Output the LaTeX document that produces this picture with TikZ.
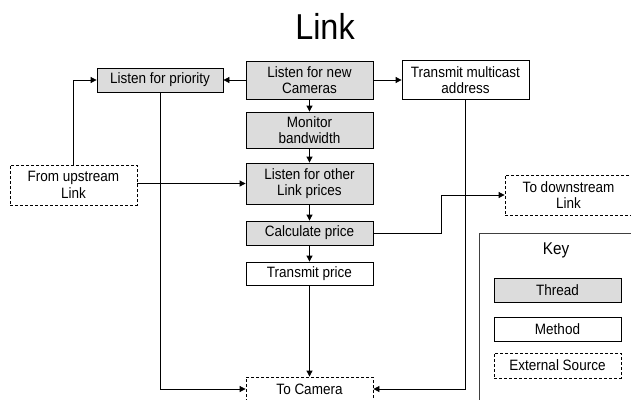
\documentclass[tikz,border=0pt]{standalone}
\usepackage{fontspec}
\setmainfont{Liberation Sans}[FakeStretch=0.9]
\usetikzlibrary{arrows.meta}
\definecolor{thr}{RGB}{220,220,220}
\tikzset{
  base/.style={draw=black, line width=0.8pt, minimum width=127pt, align=center, inner sep=0pt, font=\fontsize{15}{16.5}\selectfont},
  thread/.style={base, fill=thr},
  method/.style={base, fill=white},
  extsrc/.style={base, fill=white, dash pattern=on 3pt off 2pt},
  conn/.style={draw=black, line width=0.8pt, -{Triangle[length=6pt,width=6pt]}},
}
\begin{document}
\begin{tikzpicture}[x=1pt,y=-1pt]
\useasboundingbox (0,0) rectangle (631,399);
\clip (0,0) rectangle (631,399);
\fill[white] (0,0) rectangle (631,399);
\node[font=\fontsize{36}{38}\selectfont] (title) at (325,26) {Link};
\node[thread, minimum width=126pt, minimum height=24pt] (prio) at (160,80) {Listen for priority};
\node[thread, minimum height=38pt] (newcam) at (309.5,80) {Listen for new\\Cameras};
\node[method, minimum height=39pt] (multi) at (465.5,80) {Transmit multicast\\address};
\node[thread, minimum height=36pt] (monitor) at (309.5,130) {Monitor\\bandwidth};
\node[thread, minimum height=41pt] (other) at (309.5,183.5) {Listen for other\\Link prices};
\node[extsrc, minimum height=40pt] (up) at (73.5,185) {From upstream\\Link};
\node[thread, minimum height=24pt] (calc) at (309.5,233) {Calculate price};
\node[method, minimum height=23pt] (tprice) at (309.5,273.5) {Transmit price};
\node[extsrc, minimum height=24pt] (camera) at (309.5,389) {To Camera};
\node[extsrc, minimum height=40pt] (down) at (568.5,195) {To downstream\\Link};
\node[draw=black!75, line width=0.8pt, minimum width=170pt, minimum height=180pt, anchor=north west] (keybox) at (479,233) {};
\node[font=\fontsize{17}{19}\selectfont] (keylbl) at (556,250) {Key};
\node[thread, minimum height=24pt] (kthread) at (557.5,290) {Thread};
\node[method, minimum height=24pt] (kmethod) at (557.5,329) {Method};
\node[extsrc, minimum height=25pt] (kext) at (557.5,365.5) {External Source};
\coordinate (bend1) at (441,233);
\coordinate (bend2) at (441,195);
% connectors
\draw[conn] (newcam.west) -- (prio.east);
\draw[conn] (newcam.east) -- (multi.west);
\draw[conn] (newcam) -- (monitor);
\draw[conn] (monitor) -- (other);
\draw[conn] (other) -- (calc);
\draw[conn] (calc) -- (tprice);
\draw[conn] (tprice) -- (camera);
\draw[conn] (up.north) |- (prio.west);
\draw[conn] (up.east |- other.west) -- (other.west);
\draw[conn] (prio.south) |- (camera.west);
\draw[conn] (multi.south) |- (camera.east);
\draw[conn] (calc.east) -- (bend1) -- (bend2) -- (down.west);
\end{tikzpicture}
\end{document}
